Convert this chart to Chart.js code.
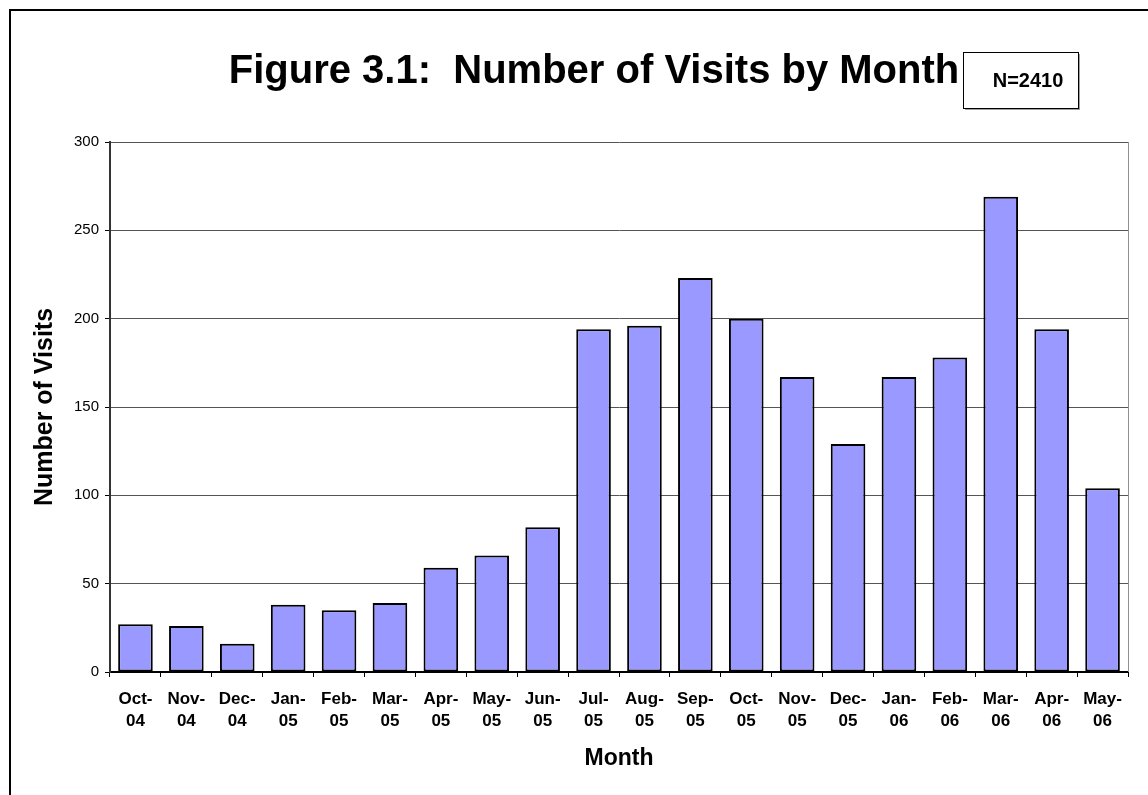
<!DOCTYPE html>
<html lang="en">
<head>
    <meta charset="UTF-8">
    <script src="https://cdn.jsdelivr.net/npm/chart.js"></script>
    <title>Number of Visits by Month</title>
    <style>
        html, body {
            margin: 0;
            padding: 0;
            background-color: #ffffff;
        }
        #wrap {
            position: relative;
            width: 1148px;
            height: 795px;
            overflow: hidden;
        }
    </style>
</head>
<body>
    <div id="wrap">
        <canvas id="visitsChart" width="1148" height="795"></canvas>
    </div>
    <script>
        // data
        const months = [
            ['Oct-', '04'], ['Nov-', '04'], ['Dec-', '04'],
            ['Jan-', '05'], ['Feb-', '05'], ['Mar-', '05'], ['Apr-', '05'], ['May-', '05'], ['Jun-', '05'],
            ['Jul-', '05'], ['Aug-', '05'], ['Sep-', '05'], ['Oct-', '05'], ['Nov-', '05'], ['Dec-', '05'],
            ['Jan-', '06'], ['Feb-', '06'], ['Mar-', '06'], ['Apr-', '06'], ['May-', '06']
        ];
        const visits = [27, 26, 16, 38, 35, 39, 59, 66, 82, 194, 196, 223, 200, 167, 129, 167, 178, 269, 194, 104];
        const yMin = 0;
        const yMax = 300;
        const yStep = 50;

        const chartTitle = 'Figure 3.1:  Number of Visits by Month';
        const sampleNote = 'N=2410';
        const yAxisTitle = 'Number of Visits';
        const xAxisTitle = 'Month';

        const FONT = '"Liberation Sans", Arial, sans-serif';

        // outer frame, title, N box, right edge of the plot
        const decorations = {
            id: 'decorations',
            beforeDraw(chart) {
                const ctx = chart.ctx;
                ctx.save();
                ctx.fillStyle = '#ffffff';
                ctx.fillRect(0, 0, chart.width, chart.height);
                ctx.strokeStyle = '#000000';
                ctx.lineWidth = 2;
                ctx.strokeRect(10, 10, chart.width + 20, chart.height + 20);
                ctx.restore();
            },
            afterDraw(chart) {
                const ctx = chart.ctx;
                const area = chart.chartArea;
                ctx.save();

                // right border of plot area
                ctx.strokeStyle = '#909090';
                ctx.lineWidth = 1;
                ctx.beginPath();
                ctx.moveTo(Math.round(area.right) + 0.5, area.top);
                ctx.lineTo(Math.round(area.right) + 0.5, area.bottom);
                ctx.stroke();

                // title
                ctx.fillStyle = '#000000';
                ctx.font = 'bold 40px ' + FONT;
                ctx.textAlign = 'center';
                ctx.textBaseline = 'alphabetic';
                ctx.fillText(chartTitle, 594, 83);

                // N box with a thin shadow
                ctx.fillStyle = '#a0a0a0';
                ctx.fillRect(965, 54, 115, 56);
                ctx.fillStyle = '#ffffff';
                ctx.fillRect(963, 52, 115, 56);
                ctx.strokeStyle = '#000000';
                ctx.lineWidth = 1;
                ctx.strokeRect(963.5, 52.5, 115, 56);
                ctx.fillStyle = '#000000';
                ctx.font = 'bold 20px ' + FONT;
                ctx.textAlign = 'center';
                ctx.fillText(sampleNote, 1028, 87);

                ctx.restore();
            }
        };

        const ctx = document.getElementById('visitsChart').getContext('2d');
        new Chart(ctx, {
            type: 'bar',
            data: {
                labels: months,
                datasets: [{
                    label: 'Visits',
                    data: visits,
                    backgroundColor: '#9999ff',
                    borderColor: '#000000',
                    borderWidth: 2,
                    borderSkipped: false,
                    barPercentage: 0.68,
                    categoryPercentage: 1.0
                }]
            },
            options: {
                responsive: false,
                animation: false,
                layout: {
                    padding: { top: 142, right: 20, left: 0, bottom: 0 }
                },
                plugins: {
                    legend: { display: false },
                    tooltip: { enabled: false },
                    title: { display: false }
                },
                scales: {
                    x: {
                        afterFit(scale) { scale.height = 123; },
                        grid: {
                            offset: true,
                            drawOnChartArea: false,
                            drawTicks: true,
                            tickLength: 5,
                            tickColor: '#000000'
                        },
                        border: { color: '#000000', width: 2 },
                        ticks: {
                            color: '#000000',
                            padding: 11,
                            maxRotation: 0,
                            autoSkip: false,
                            font: { family: FONT, size: 17, weight: 'bold', lineHeight: 1.32 }
                        },
                        title: {
                            display: true,
                            text: xAxisTitle,
                            color: '#000000',
                            padding: { top: 0, bottom: 23 },
                            font: { family: FONT, size: 23, weight: 'bold' }
                        }
                    },
                    y: {
                        min: yMin,
                        max: yMax,
                        afterFit(scale) { scale.width = 110; },
                        grid: {
                            color: '#555555',
                            lineWidth: 1,
                            drawTicks: true,
                            tickLength: 5,
                            tickColor: '#000000'
                        },
                        border: { color: '#333333', width: 2 },
                        ticks: {
                            stepSize: yStep,
                            color: '#000000',
                            padding: 6,
                            font: { family: FONT, size: 15 }
                        },
                        title: {
                            display: true,
                            text: yAxisTitle,
                            color: '#000000',
                            padding: { top: 30, bottom: 0 },
                            font: { family: FONT, size: 25, weight: 'bold' }
                        }
                    }
                }
            },
            plugins: [decorations]
        });
    </script>
</body>
</html>
